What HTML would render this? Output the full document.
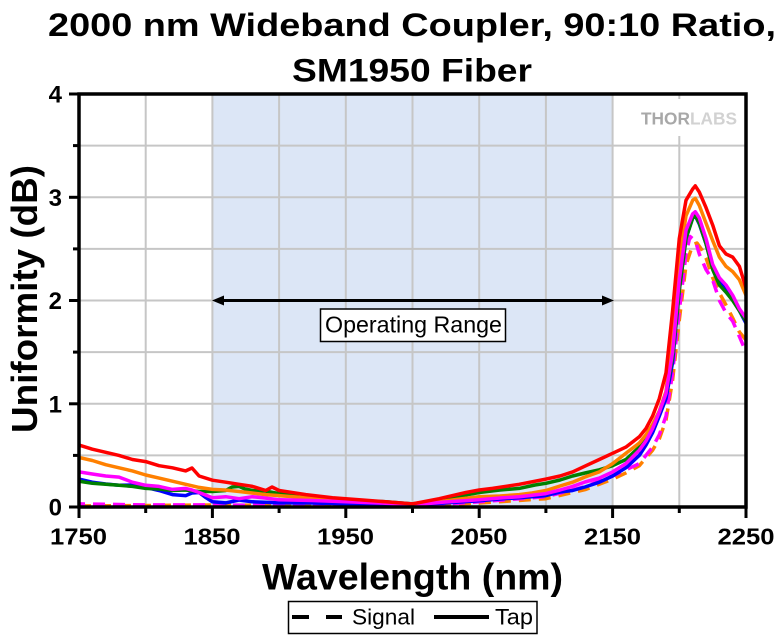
<!DOCTYPE html>
<html>
<head>
<meta charset="utf-8">
<style>
  html, body { margin:0; padding:0; background:#ffffff; }
  svg { display:block; }
  text { font-family: "Liberation Sans", Arial, sans-serif; }
</style>
</head>
<body>
<svg width="780" height="636" viewBox="0 0 780 636" xmlns="http://www.w3.org/2000/svg">
  <defs>
    <clipPath id="plot">
      <rect x="79" y="94" width="667" height="413"/>
    </clipPath>
  </defs>

  <!-- Title -->
  <text x="48" y="36" font-size="32" font-weight="bold" textLength="728" lengthAdjust="spacingAndGlyphs">2000 nm Wideband Coupler, 90:10 Ratio,</text>
  <text x="292" y="81.5" font-size="32" font-weight="bold" textLength="240" lengthAdjust="spacingAndGlyphs">SM1950 Fiber</text>

  <!-- Shaded operating region -->
  <rect x="212.4" y="94" width="400.2" height="413" fill="#dce6f6"/>

  <!-- Grid -->
  <g stroke="#c6c6c6" stroke-width="2" fill="none">
    <line x1="145.7" y1="94" x2="145.7" y2="507"/>
    <line x1="212.4" y1="94" x2="212.4" y2="507"/>
    <line x1="279.1" y1="94" x2="279.1" y2="507"/>
    <line x1="345.8" y1="94" x2="345.8" y2="507"/>
    <line x1="412.5" y1="94" x2="412.5" y2="507"/>
    <line x1="479.2" y1="94" x2="479.2" y2="507"/>
    <line x1="545.9" y1="94" x2="545.9" y2="507"/>
    <line x1="612.6" y1="94" x2="612.6" y2="507"/>
    <line x1="679.3" y1="94" x2="679.3" y2="507"/>
    <line x1="79" y1="455.4" x2="746" y2="455.4"/>
    <line x1="79" y1="403.8" x2="746" y2="403.8"/>
    <line x1="79" y1="352.1" x2="746" y2="352.1"/>
    <line x1="79" y1="300.5" x2="746" y2="300.5"/>
    <line x1="79" y1="248.9" x2="746" y2="248.9"/>
    <line x1="79" y1="197.3" x2="746" y2="197.3"/>
    <line x1="79" y1="145.6" x2="746" y2="145.6"/>
  </g>

  <!-- Logo area -->
  <rect x="636" y="99" width="107" height="37" fill="#ffffff"/>
  <text x="641" y="124.5" font-size="17.5" font-weight="bold" textLength="96" lengthAdjust="spacingAndGlyphs"><tspan fill="#a8a8a8">THOR</tspan><tspan fill="#d2d2d2">LABS</tspan></text>

  <!-- Series -->
  <g clip-path="url(#plot)" fill="none" stroke-width="3.5" stroke-linejoin="round">
    <!-- Signal (dashed) -->
    <polyline stroke="#ff8000" stroke-dasharray="12 8" points="79,506 145.7,505.5 212.4,505 279.1,505.5 345.8,505.5 412.5,506 479.2,503 545.9,498.7 585.9,489.4 612.6,479.1 625.9,472.9 639.3,465.7 652.6,450.2 659.3,438.9 666.0,420.2 672.6,380.0 679.3,320.0 686.0,265.0 692.7,244.7 697.0,243.0 702,250.0 706.0,258.0 712.7,277.8 719.4,293.0 726.0,305.0 732.7,318.0 739.4,332.0 746.0,340.0"/>
    <polyline stroke="#ff00ff" stroke-dasharray="12 8" stroke-dashoffset="6" points="79,503.9 145.7,504.9 212.4,504.9 279.1,505.5 412.5,506 479.2,501.8 545.9,496.7 585.9,486.4 612.6,476.0 625.9,469.8 639.3,463.6 652.6,447.1 659.3,434.7 666.0,416.1 672.6,372.8 679.3,310.8 686.0,254.0 690.0,236.5 695.3,240.6 699.3,254.0 706.0,269.5 712.7,279.9 719.4,300.5 726.0,312.9 732.7,321.2 739.4,336.6 746.0,352.1"/>

    <!-- Tap (solid) -->
    <polyline stroke="#0000ff" points="79,479.1 92.3,482.2 105.7,484 119.0,485.3 132.4,485 145.7,487.4 159.0,490.5 172.4,494.6 185.7,495.6 192,493 199.1,492.5 205,497 212.4,501.8 225.7,502.9 239,500 252.4,501.8 279.1,502.9 312,503 345.8,503.9 380,504 412.5,504.9 445,503 479.2,500.8 500,499 519.2,497.7 545.9,495.6 560,492 572.6,490.5 585,487 599.3,482.2 612.6,476.0 625.9,467.8 639.3,455.4 646.0,445.0 652.6,432.7 659.3,416.1 666.0,398.6 672.6,362.4 679.3,290.2 686.0,238.5 692.7,217.9 695.3,215.8 699.3,224.1 706.0,243.7 712.7,267.5 719.4,281.9 726.0,288.1 732.7,298.4 739.4,310.8 746.0,323.2"/>
    <polyline stroke="#008000" points="79,481.2 92.3,483.3 105.7,484.3 119.0,485.3 132.4,486.4 145.7,488.4 159,489 172.4,490.5 185,490 199.1,491.5 212.4,491.5 225.7,490.5 232,487 239.1,486.4 245,489 252.4,490.5 265,491 279.1,493.6 305.8,496.7 345.8,499.8 385.8,501.8 412.5,503.9 439.2,499.8 460,496 479.2,492.5 500,490 519.2,488.4 535,485 545.9,483.3 560,480 572.6,476.0 585,473 599.3,469.8 612.6,465.7 625.9,459.5 639.3,447.1 646.0,438.9 652.6,426.5 659.3,412.0 666.0,393.4 672.6,357.3 679.3,290.2 686.0,238.5 692.7,217.9 695.3,215.8 699.3,223.1 706.0,243.7 712.7,269.5 719.4,285.0 726.0,292.2 732.7,300.5 739.4,310.8 746.0,321.2"/>
    <polyline stroke="#ff8000" points="79,457.4 92.3,460.5 105.7,464.7 119.0,467.8 132.4,470.9 145.7,475.0 159.0,478.1 172.4,481.2 185.7,484.3 199.1,487.4 212.4,489.4 225,490 239.1,491.5 252,493 265.8,494.6 279.1,495.6 305.8,497.7 345.8,500.8 385.8,502.9 412.5,504.9 439.2,501.8 460,499 479.2,496.7 500,496 519.2,494.6 532,493 545.9,490.5 560,486 572.6,482.2 585,477 599.3,471.9 612.6,463.6 625.9,453.3 639.3,443.0 646.0,434.7 652.6,424.4 659.3,411.0 666.0,391.4 672.6,331.5 679.3,259.2 686.0,215.8 692.7,200.3 695.3,198.3 699.3,205.5 706.0,223.1 712.7,240.6 719.4,257.1 726.0,266.4 732.7,271.6 739.4,279.8 746.0,295.3"/>
    <polyline stroke="#ff00ff" points="79,471.9 92.3,474.0 105.7,476.0 119.0,477.1 132.4,482.2 145.7,485.3 159.0,486.4 172.4,489.4 185.7,488.4 192,490 199.1,492.5 212.4,497.7 225.7,496.7 239.1,498.7 252.4,496.7 265,498 279.1,499.8 312,500.5 345.8,501.8 380,503 412.5,504.9 445,502 479.2,499.8 500,498 519.2,496.7 545.9,493.6 560,490 572.6,486.4 585,482 599.3,478.1 612.6,471.9 625.9,463.6 639.3,450.2 646.0,440.9 652.6,428.5 659.3,412.0 666.0,393.4 672.6,352.1 679.3,279.9 686.0,230.3 692.7,213.8 695.3,211.7 699.3,217.9 706.0,238.5 712.7,264.4 719.4,277.8 726.0,285.0 732.7,295.3 739.4,308.8 746.0,318.1"/>
    <polyline stroke="#ff0000" points="79,445.0 92.3,449.2 105.7,452.3 119.0,455.4 132.4,459.5 145.7,461.6 159.0,465.7 172.4,467.8 185.7,470.9 192,468 199.1,476.0 212.4,480.2 225.7,482.2 239.1,484.3 252.4,486.4 265.8,490.5 272,487 279.1,490.5 305.8,494.6 332.5,497.7 359.1,499.8 385.8,501.8 412.5,503.9 439.2,498.7 465.9,492.5 479.2,490 492.5,488.4 519.2,484.3 545.9,479.1 560,476 572.6,471.9 585.9,465.7 599.3,459.5 612.6,453.3 625.9,447.1 639.3,436.8 646.0,428.5 652.6,416.1 659.3,398.6 666.0,372.8 672.6,310.8 679.3,238.5 686.0,200.3 692.7,189.0 695.3,185.9 699.3,192.1 706.0,207.6 712.7,225.1 719.4,245.8 726.0,254.0 732.7,257.1 739.4,266.4 746.0,288.1"/>
  </g>

  <!-- Operating range annotation -->
  <line x1="220" y1="300.5" x2="605" y2="300.5" stroke="#000" stroke-width="3"/>
  <polygon points="212,300.5 224,295.5 224,305.5" fill="#000"/>
  <polygon points="614,300.5 602,295.5 602,305.5" fill="#000"/>
  <rect x="320.5" y="309" width="185" height="32.5" fill="#ffffff" stroke="#000" stroke-width="1.5"/>
  <text x="325" y="332.5" font-size="23" textLength="177" lengthAdjust="spacingAndGlyphs">Operating Range</text>

  <!-- Axes frame -->
  <rect x="79" y="94" width="667" height="413" fill="none" stroke="#000" stroke-width="3.5"/>

  <!-- Ticks -->
  <g stroke="#000" stroke-width="3">
    <line x1="69" y1="94" x2="79" y2="94"/>
    <line x1="69" y1="197.3" x2="79" y2="197.3"/>
    <line x1="69" y1="300.5" x2="79" y2="300.5"/>
    <line x1="69" y1="403.8" x2="79" y2="403.8"/>
    <line x1="69" y1="507" x2="79" y2="507"/>
    <line x1="73" y1="145.6" x2="79" y2="145.6"/>
    <line x1="73" y1="248.9" x2="79" y2="248.9"/>
    <line x1="73" y1="352.1" x2="79" y2="352.1"/>
    <line x1="73" y1="455.4" x2="79" y2="455.4"/>

    <line x1="79" y1="507" x2="79" y2="518"/>
    <line x1="212.4" y1="507" x2="212.4" y2="518"/>
    <line x1="345.8" y1="507" x2="345.8" y2="518"/>
    <line x1="479.2" y1="507" x2="479.2" y2="518"/>
    <line x1="612.6" y1="507" x2="612.6" y2="518"/>
    <line x1="746" y1="507" x2="746" y2="518"/>
    <line x1="145.7" y1="507" x2="145.7" y2="513"/>
    <line x1="279.1" y1="507" x2="279.1" y2="513"/>
    <line x1="412.5" y1="507" x2="412.5" y2="513"/>
    <line x1="545.9" y1="507" x2="545.9" y2="513"/>
    <line x1="679.3" y1="507" x2="679.3" y2="513"/>
  </g>

  <!-- Y tick labels -->
  <g font-size="24" font-weight="bold" text-anchor="end">
    <text x="62" y="102.5">4</text>
    <text x="62" y="205.8">3</text>
    <text x="62" y="309">2</text>
    <text x="62" y="412.3">1</text>
    <text x="62" y="515.5">0</text>
  </g>

  <!-- X tick labels -->
  <g font-size="23" font-weight="bold">
    <text x="50" y="544.5" textLength="57" lengthAdjust="spacingAndGlyphs">1750</text>
    <text x="183.5" y="544.5" textLength="57" lengthAdjust="spacingAndGlyphs">1850</text>
    <text x="317" y="544.5" textLength="57" lengthAdjust="spacingAndGlyphs">1950</text>
    <text x="450.5" y="544.5" textLength="57" lengthAdjust="spacingAndGlyphs">2050</text>
    <text x="584" y="544.5" textLength="57" lengthAdjust="spacingAndGlyphs">2150</text>
    <text x="717.5" y="544.5" textLength="57" lengthAdjust="spacingAndGlyphs">2250</text>
  </g>

  <!-- Axis titles -->
  <text transform="translate(37,433) rotate(-90)" x="0" y="0" font-size="36" font-weight="bold" textLength="268" lengthAdjust="spacingAndGlyphs">Uniformity (dB)</text>
  <text x="262" y="589.5" font-size="37" font-weight="bold" textLength="301" lengthAdjust="spacingAndGlyphs">Wavelength (nm)</text>

  <!-- Legend -->
  <rect x="288.5" y="601.5" width="248.5" height="32" fill="#ffffff" stroke="#000" stroke-width="1.5"/>
  <line x1="292" y1="617" x2="309" y2="617" stroke="#000" stroke-width="4"/>
  <line x1="326" y1="617" x2="342" y2="617" stroke="#000" stroke-width="4"/>
  <text x="352" y="624.5" font-size="22" textLength="63" lengthAdjust="spacingAndGlyphs">Signal</text>
  <line x1="434" y1="617" x2="489" y2="617" stroke="#000" stroke-width="4"/>
  <text x="495" y="624.5" font-size="22" textLength="38" lengthAdjust="spacingAndGlyphs">Tap</text>
</svg>
</body>
</html>
